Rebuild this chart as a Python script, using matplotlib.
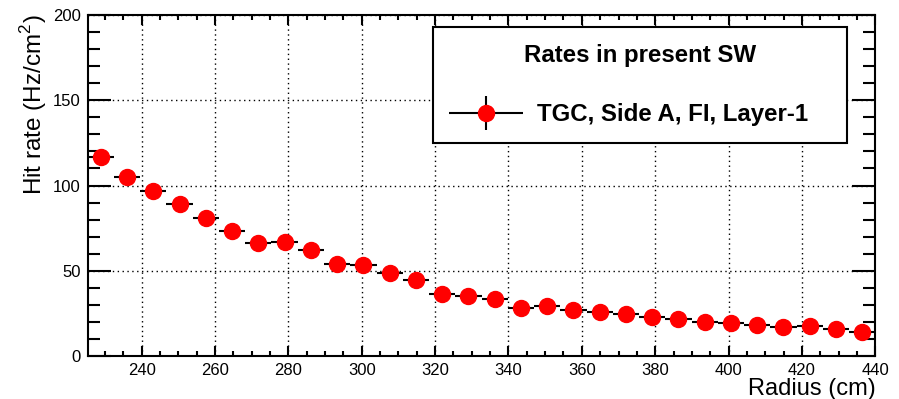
import numpy as np
import matplotlib
matplotlib.use("Agg")
import matplotlib.pyplot as plt
from matplotlib.legend_handler import HandlerErrorbar
from matplotlib.ticker import MultipleLocator

plt.rcParams['font.family'] = ['Liberation Sans', 'DejaVu Sans']
plt.rcParams['mathtext.fontset'] = 'custom'
plt.rcParams['mathtext.rm'] = 'Liberation Sans'

# histogram binning (radius in cm)
r_min = 225.3
r_max = 440.0
n_bins = 30

# hit rate per bin (Hz/cm^2)
hit_rate = [116.9, 105.2, 97.0, 89.2, 80.8, 73.4, 66.2, 67.1, 62.3, 53.9,
            53.5, 48.6, 44.7, 36.3, 35.5, 33.4, 28.5, 29.6, 27.1, 26.1,
            24.6, 23.2, 21.8, 20.3, 19.3, 18.3, 17.3, 17.9, 15.8, 14.4]
# statistical errors, too small to see under the markers
hit_rate_err = [1.5, 1.5, 1.4, 1.4, 1.3, 1.3, 1.2, 1.2, 1.2, 1.1,
                1.1, 1.1, 1.0, 1.0, 1.0, 0.9, 0.9, 0.9, 0.9, 0.8,
                0.8, 0.8, 0.8, 0.7, 0.7, 0.7, 0.7, 0.7, 0.6, 0.6]

legend_title = "Rates in present SW"
series_label = "TGC, Side A, FI, Layer-1"

edges = np.linspace(r_min, r_max, n_bins + 1)
centers = 0.5 * (edges[:-1] + edges[1:])
half_width = 0.5 * np.diff(edges)

fig = plt.figure(figsize=(8.99, 3.99), dpi=100)
ax = fig.add_axes([0.0976, 0.107, 0.876, 0.856])

eb = ax.errorbar(centers, hit_rate, xerr=half_width, yerr=hit_rate_err,
                 fmt='o', color='red', mec='red', ecolor='black',
                 elinewidth=1.5, capsize=0, markersize=11.5,
                 label=series_label)

ax.set_xlim(r_min, r_max)
ax.set_ylim(0, 200)
ax.xaxis.set_major_locator(MultipleLocator(20))
ax.xaxis.set_minor_locator(MultipleLocator(5))
ax.yaxis.set_major_locator(MultipleLocator(50))
ax.yaxis.set_minor_locator(MultipleLocator(10))

ax.grid(True, which='major', color='black', linestyle=(0, (1, 2.5)), linewidth=1.0)

ax.tick_params(which='both', direction='in', top=True, right=True,
               width=1.5, labelsize=12)
ax.tick_params(axis='x', which='major', length=7.2, pad=5)
ax.tick_params(axis='x', which='minor', length=3.6)
ax.tick_params(axis='y', which='major', length=16.5, pad=5)
ax.tick_params(axis='y', which='minor', length=8.6)
for sp in ax.spines.values():
    sp.set_linewidth(1.5)

ax.set_xlabel("Radius (cm)", loc='right', fontsize=17, labelpad=0)
ax.set_ylabel("Hit rate (Hz/cm$^{2}$)", loc='top', fontsize=17.5, labelpad=3)

fs = 17.3
leg = ax.legend(handles=[eb], labels=[series_label], title=legend_title,
                loc='upper left', bbox_to_anchor=(0.438, 0.626, 0.526, 0.337),
                mode='expand', borderaxespad=0, borderpad=0.70,
                labelspacing=1.5, handlelength=3.04, handletextpad=0.62,
                fancybox=False, framealpha=1, edgecolor='black',
                prop={'weight': 'bold', 'size': fs},
                title_fontproperties={'weight': 'bold', 'size': fs},
                handler_map={type(eb): HandlerErrorbar(xerr_size=1.52, yerr_size=0.71)})
leg.get_frame().set_linewidth(1.5)

fig.savefig("out.png", dpi=100)
